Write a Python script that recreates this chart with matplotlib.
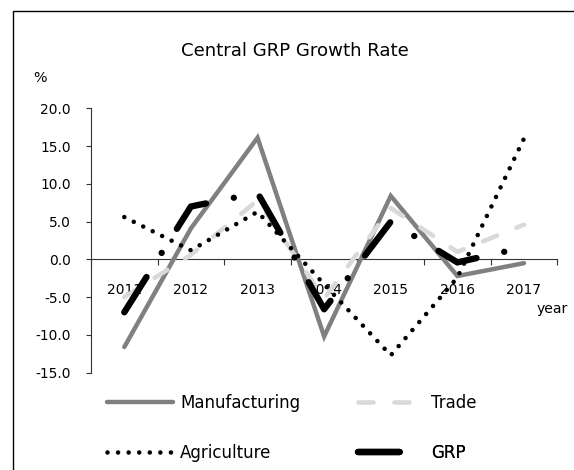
import matplotlib
matplotlib.use("Agg")
import matplotlib.pyplot as plt
from matplotlib.patches import Rectangle

plt.rcParams['font.family'] = ['DejaVu Sans']
plt.rcParams['lines.scale_dashes'] = False

years = ['2011', '2012', '2013', '2014', '2015', '2016', '2017']
manufacturing = [-11.6, 4.1, 16.1, -10.2, 8.4, -2.2, -0.5]
trade = [-5.0, 0.6, 7.8, -5.2, 6.8, 1.0, 4.6]
agriculture = [5.6, 1.2, 6.3, -3.3, -12.7, -2.4, 16.0]
grp = [-7.0, 7.0, 8.8, -6.6, 5.0, -0.4, 1.6]
y_ticks = [-15, -10, -5, 0, 5, 10, 15, 20]

W, H = 574, 470
fig = plt.figure(figsize=(W / 100, H / 100), dpi=100)

def fx(px):
    return px / W

def fy(py):
    return 1 - py / H

ax = fig.add_axes([fx(91), fy(372.7), fx(557.3) - fx(91), fy(108.3) - fy(372.7)])

x = list(range(len(years)))
l_man, = ax.plot(x, manufacturing, color='#808080', lw=3.2, solid_capstyle='round',
                 solid_joinstyle='miter', zorder=3)
l_tr, = ax.plot(x, trade, color='#d9d9d9', lw=3.3, dash_capstyle='round',
                dash_joinstyle='round', zorder=4, linestyle=(0, (10.8, 15.1)))
l_ag, = ax.plot(x, agriculture, color='black', lw=3.3, dash_capstyle='round', zorder=5,
                linestyle=(0, (0.01, 7.6)))
l_grp, = ax.plot(x, grp, color='black', lw=4.6, dash_capstyle='round',
                 dash_joinstyle='round', zorder=6, linestyle=(0, (30.0, 20.5, 0.01, 20.5)))

ax.set_xlim(-0.5, len(years) - 0.5)
ax.set_ylim(-15, 20)

for s in ['top', 'right']:
    ax.spines[s].set_visible(False)
ax.spines['bottom'].set_position(('data', 0))
for s in ['left', 'bottom']:
    ax.spines[s].set_color('#333333')
    ax.spines[s].set_linewidth(0.8)

ax.set_xticks([i - 0.5 for i in range(len(years) + 1)])
ax.set_xticklabels([])
ax.set_xticks(x, minor=True)
ax.set_xticklabels(years, minor=True, fontsize=9.9)
ax.tick_params(axis='x', which='major', direction='out', length=4.5, width=0.8, color='#333333')
ax.tick_params(axis='x', which='minor', length=0, pad=17.0)

ax.set_yticks(y_ticks)
ax.set_yticklabels([f'{v:.1f}' for v in y_ticks], fontsize=9.9)
ax.tick_params(axis='y', direction='out', length=3.6, width=0.8, color='#333333', pad=10.8)

fig.text(fx(295), fy(56), 'Central GRP Growth Rate', ha='center', va='baseline', fontsize=13.1)
fig.text(fx(40), fy(81.7), '%', ha='center', va='baseline', fontsize=10.3)
fig.text(fx(537), fy(313), 'year', ha='left', va='baseline', fontsize=10.1)

# frame
fig.add_artist(Rectangle((fx(13), -0.2), 2, fy(11) + 0.2, transform=fig.transFigure,
                         fill=False, lw=1.0, edgecolor='black'))

entries = [(l_man, 'Manufacturing', 107.3, 403),
           (l_tr, 'Trade', 358.3, 403),
           (l_ag, 'Agriculture', 107.3, 453),
           (l_grp, 'GRP', 358.3, 453)]
for line, lab, px, py in entries:
    leg = ax.legend([line], [lab], loc='center left', bbox_to_anchor=(fx(px), fy(py)),
                    bbox_transform=fig.transFigure, frameon=False, fontsize=12,
                    handlelength=3.97, handletextpad=0.4, borderpad=0, borderaxespad=0)
    ax.add_artist(leg)

fig.savefig('out.png', dpi=100)
